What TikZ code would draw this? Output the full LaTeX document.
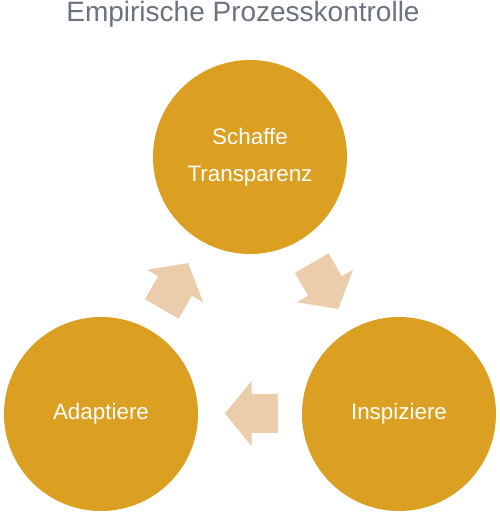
\documentclass[tikz,border=0pt]{standalone}
\usepackage{fontspec}
\setmainfont{Liberation Sans}
\definecolor{gold}{RGB}{219,160,33}
\definecolor{arrowfill}{RGB}{235,205,172}
\definecolor{titlegray}{RGB}{107,114,128}
\tikzset{
  bubble/.style={circle, fill=gold, minimum size=194pt, inner sep=0pt, text=white, align=center, font=\fontsize{22.4}{37.5}\selectfont},
  fatarrow/.pic={\fill[arrowfill] (26.5,0) -- (0,32.5) -- (0,19.5) -- (-26.5,19.5) -- (-26.5,-19.5) -- (0,-19.5) -- (0,-32.5) -- cycle;}
}
\begin{document}
\begin{tikzpicture}[x=1pt,y=1pt]
\useasboundingbox (0,0) rectangle (500,515);
\node[anchor=base, text=titlegray, font=\fontsize{28}{34}\selectfont, inner sep=0pt] (title) at (243,493.3) {Empirische Prozesskontrolle};
\node[bubble] (top) at (250,358) {Schaffe\\Transparenz};
\node[bubble] (left) at (101,101) {Adaptiere};
\node[bubble] (right) at (399,101) {Inspiziere};
\pic[rotate=60] (a1) at (175,229) {fatarrow};
\pic[rotate=-60] (a2) at (325,229) {fatarrow};
\pic[rotate=180] (a3) at (251.5,101.5) {fatarrow};
\end{tikzpicture}
\end{document}
